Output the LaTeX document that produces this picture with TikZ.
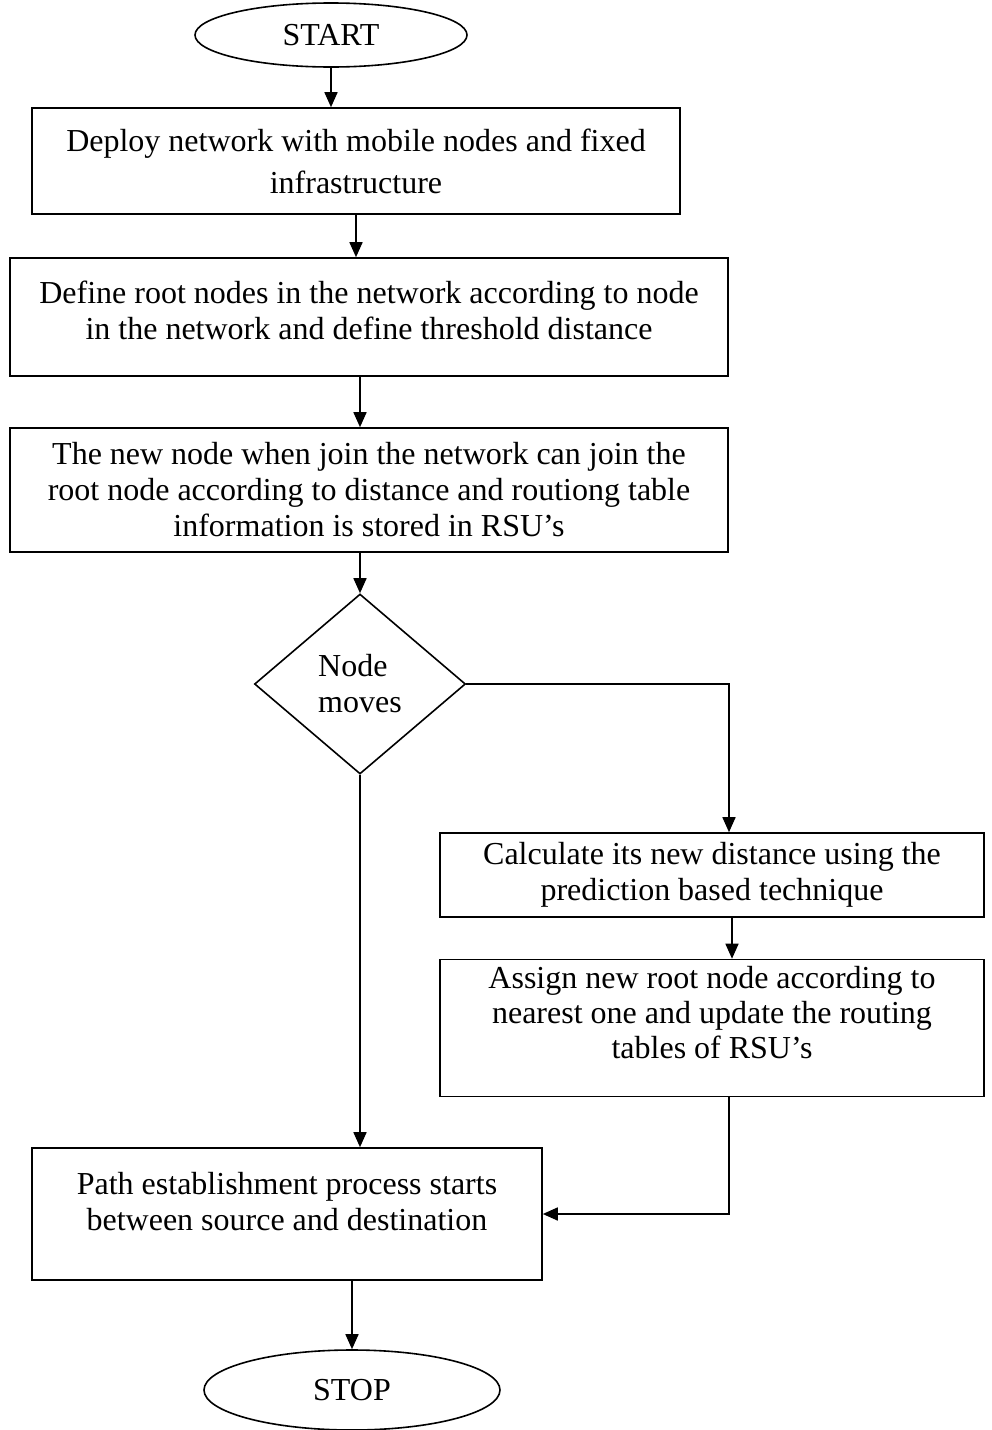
\documentclass[tikz,border=0pt]{standalone}
\usepackage{fontspec}
\setmainfont{Liberation Serif}
\usetikzlibrary{shapes.geometric,arrows.meta}

\begin{document}
\begin{tikzpicture}[x=1pt, y=-1pt, line width=1.6pt,
  box/.style={draw, rectangle, align=center, inner sep=0pt},
  term/.style={draw, ellipse, inner sep=0pt},
  decision/.style={draw, diamond, align=left, inner sep=0pt},
  flow/.style={-{Triangle[length=15pt,width=13pt]}},
  every node/.style={font=\fontsize{32}{36}\selectfont}]
% Page
\useasboundingbox (0,0) rectangle (991,1430);

% Terminals
\node[term, minimum width=272, minimum height=64] (start) at (331,35) {START};
\node[term, minimum width=296, minimum height=80] (stop) at (352,1390) {STOP};

% Steps
\node[box, minimum width=648, minimum height=106, font=\fontsize{32}{42}\selectfont] (deploy) at (356,161)
  {Deploy network with mobile nodes and fixed\\infrastructure};
\node[box, minimum width=718, minimum height=118, text depth=14pt] (define) at (369,317)
  {Define root nodes in the network according to node\\in the network and define threshold distance};
\node[box, minimum width=718, minimum height=124] (join) at (369,490)
  {The new node when join the network can join the\\root node according to distance and routiong table\\information is stored in RSU's};
\node[decision, minimum width=211, minimum height=180] (moves) at (360,684)
  {Node\\moves};
\node[box, minimum width=544, minimum height=84] (calc) at (712,875)
  {Calculate its new distance using the\\prediction based technique};
\node[box, minimum width=544, minimum height=137, text depth=32pt, font=\fontsize{32}{35}\selectfont] (assign) at (712,1028)
  {Assign new root node according to\\nearest one and update the routing\\tables of RSU's};
\node[box, minimum width=510, minimum height=132, text depth=26pt] (path) at (287,1214)
  {Path establishment process starts\\between source and destination};

% Connectors
\draw[flow] (start.south) -- (start.south |- deploy.north);
\draw[flow] (deploy.south) -- (deploy.south |- define.north);
\draw[flow] (moves.north |- define.south) -- (moves.north |- join.north);
\draw[flow] (moves.north |- join.south) -- (moves.north);
\draw[flow] (moves.east) -| ([xshift=17pt]calc.north);
\draw[flow] ([xshift=20pt]calc.south) -- ([xshift=20pt]assign.north);
\draw[flow] ([xshift=17pt]assign.south) |- (path.east);
\draw[flow] (moves.south) -- (moves.south |- path.north);
\draw[flow] (stop.north |- path.south) -- (stop.north);
\end{tikzpicture}
\end{document}
